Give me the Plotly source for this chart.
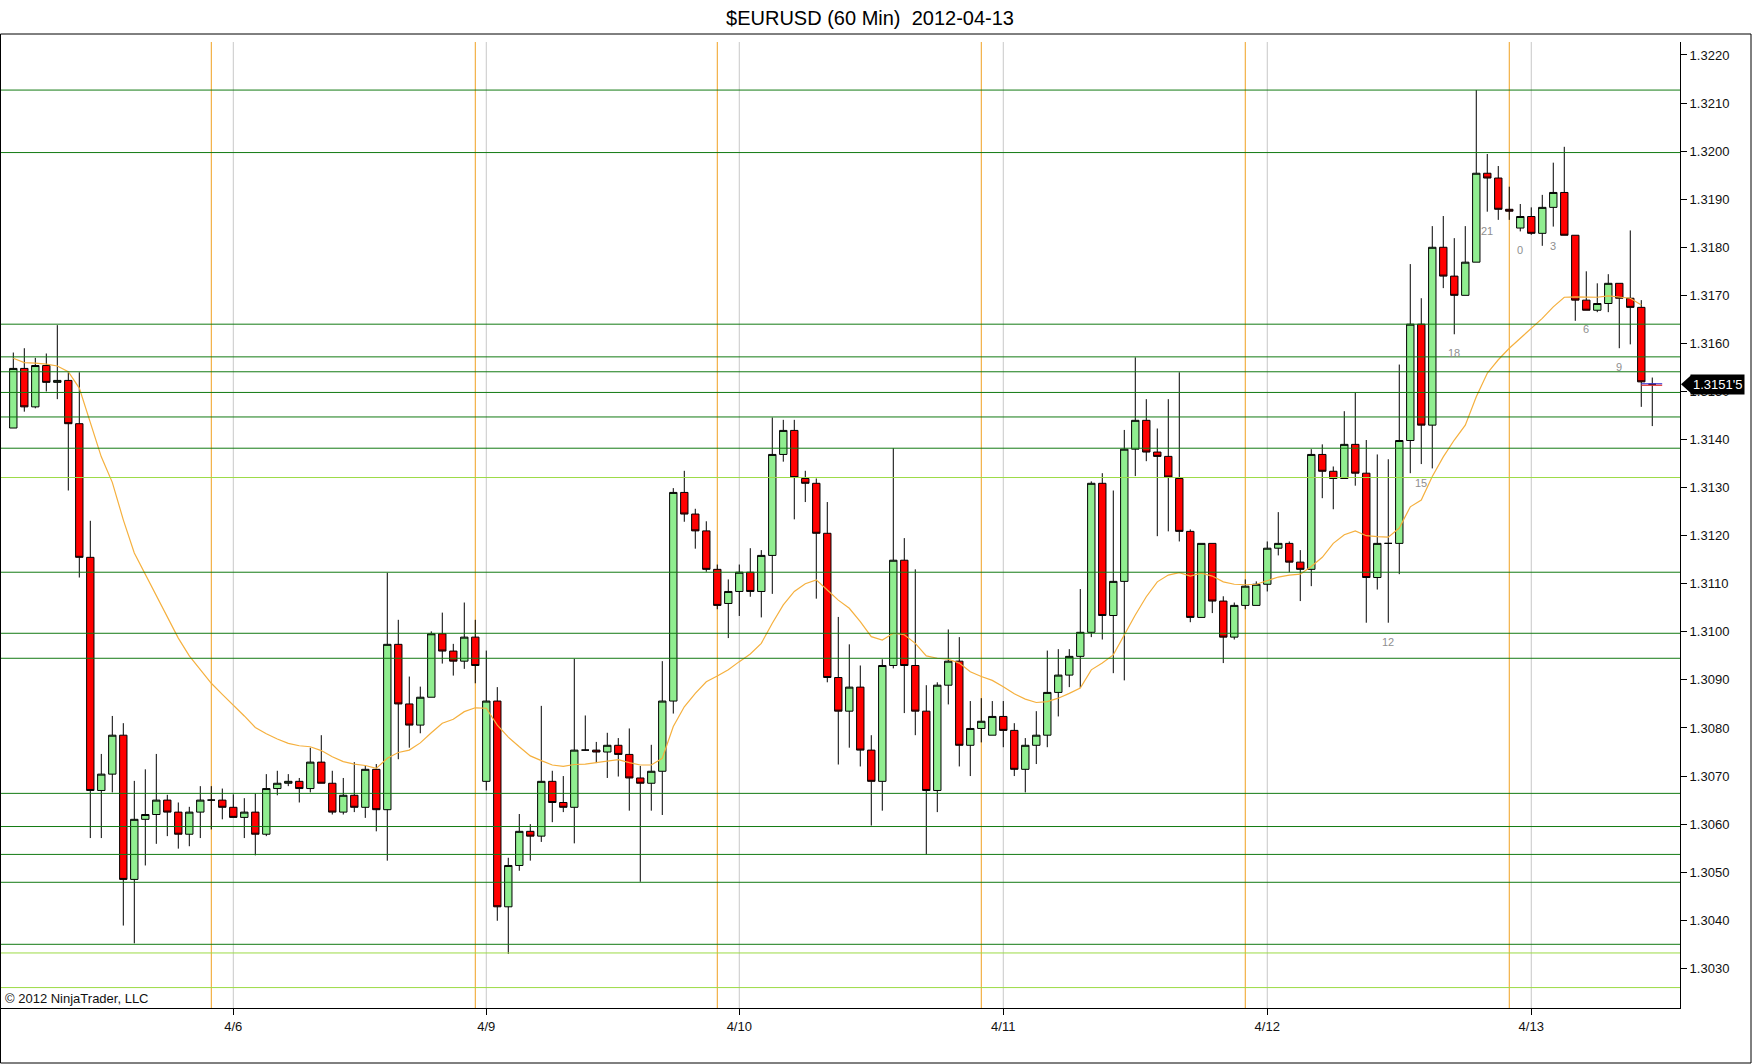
"""
$EURUSD 60 min candles with session breaks, support/resistance levels
and a moving average, in the NinjaTrader look.
"""

import plotly.graph_objects as go

# hourly bars (bar 0 = first visible bar)
opens = [
    1.31424, 1.31548, 1.31468, 1.31554, 1.31519, 1.31523, 1.31433, 1.31155, 1.30670, 1.30704,
    1.30785, 1.30485, 1.30610, 1.30620, 1.30650, 1.30625, 1.30579, 1.30625, 1.30650, 1.30650,
    1.30635, 1.30614, 1.30625, 1.30579, 1.30674, 1.30685, 1.30689, 1.30674, 1.30729, 1.30685,
    1.30625, 1.30660, 1.30635, 1.30714, 1.30630, 1.30974, 1.30850, 1.30806, 1.30864, 1.30996,
    1.30960, 1.30939, 1.30989, 1.30689, 1.30856, 1.30428, 1.30514, 1.30585, 1.30575, 1.30689,
    1.30645, 1.30635, 1.30754, 1.30754, 1.30750, 1.30764, 1.30745, 1.30696, 1.30685, 1.30710,
    1.30856, 1.31290, 1.31245, 1.31210, 1.31130, 1.31059, 1.31084, 1.31124, 1.31084, 1.31159,
    1.31369, 1.31419, 1.31319, 1.31309, 1.31205, 1.30905, 1.30835, 1.30885, 1.30754, 1.30689,
    1.30930, 1.31149, 1.30930, 1.30835, 1.30670, 1.30889, 1.30939, 1.30764, 1.30799, 1.30785,
    1.30824, 1.30795, 1.30714, 1.30764, 1.30785, 1.30874, 1.30910, 1.30949, 1.30999, 1.31309,
    1.31034, 1.31105, 1.31380, 1.31440, 1.31374, 1.31365, 1.31319, 1.31209, 1.31030, 1.31184,
    1.31064, 1.30989, 1.31055, 1.31055, 1.31099, 1.31174, 1.31184, 1.31145, 1.31130, 1.31369,
    1.31334, 1.31319, 1.31390, 1.31330, 1.31113, 1.31184, 1.31184, 1.31398, 1.31640, 1.31430,
    1.31800, 1.31740, 1.31700, 1.31769, 1.31954, 1.31944, 1.31879, 1.31840, 1.31864, 1.31829,
    1.31883, 1.31914, 1.31825, 1.31690, 1.31669, 1.31683, 1.31725, 1.31694, 1.31675, 1.31515,
]
highs = [
    1.31581, 1.31590, 1.31570, 1.31579, 1.31638, 1.31540, 1.31540, 1.31231, 1.30746, 1.30825,
    1.30810, 1.30690, 1.30714, 1.30746, 1.30661, 1.30645, 1.30636, 1.30679, 1.30679, 1.30674,
    1.30662, 1.30654, 1.30664, 1.30704, 1.30711, 1.30704, 1.30696, 1.30759, 1.30785, 1.30711,
    1.30696, 1.30729, 1.30721, 1.30725, 1.31123, 1.31025, 1.30907, 1.30886, 1.31001, 1.31040,
    1.30975, 1.31061, 1.31025, 1.30961, 1.30885, 1.30530, 1.30621, 1.30600, 1.30846, 1.30711,
    1.30700, 1.30944, 1.30826, 1.30771, 1.30790, 1.30779, 1.30799, 1.30721, 1.30765, 1.30939,
    1.31299, 1.31335, 1.31256, 1.31230, 1.31140, 1.31109, 1.31140, 1.31174, 1.31170, 1.31446,
    1.31441, 1.31441, 1.31335, 1.31319, 1.31270, 1.31031, 1.30974, 1.30930, 1.30785, 1.30943,
    1.31382, 1.31195, 1.31130, 1.30889, 1.30895, 1.31005, 1.30989, 1.30856, 1.30862, 1.30856,
    1.30856, 1.30810, 1.30779, 1.30835, 1.30961, 1.30964, 1.30964, 1.31089, 1.31313, 1.31330,
    1.31294, 1.31420, 1.31571, 1.31484, 1.31423, 1.31484, 1.31540, 1.31213, 1.31184, 1.31184,
    1.31074, 1.31061, 1.31109, 1.31105, 1.31188, 1.31249, 1.31188, 1.31170, 1.31380, 1.31390,
    1.31344, 1.31459, 1.31498, 1.31399, 1.31369, 1.31359, 1.31556, 1.31765, 1.31694, 1.31844,
    1.31865, 1.31819, 1.31844, 1.32127, 1.31994, 1.31969, 1.31926, 1.31890, 1.31883, 1.31909,
    1.31976, 1.32009, 1.31825, 1.31750, 1.31725, 1.31744, 1.31725, 1.31835, 1.31690, 1.31529,
]
lows = [
    1.31424, 1.31458, 1.31465, 1.31500, 1.31484, 1.31294, 1.31113, 1.30571, 1.30571, 1.30666,
    1.30389, 1.30352, 1.30514, 1.30559, 1.30575, 1.30549, 1.30554, 1.30571, 1.30589, 1.30610,
    1.30614, 1.30571, 1.30535, 1.30575, 1.30660, 1.30679, 1.30645, 1.30666, 1.30685, 1.30620,
    1.30620, 1.30625, 1.30613, 1.30585, 1.30524, 1.30735, 1.30759, 1.30789, 1.30864, 1.30934,
    1.30909, 1.30923, 1.30893, 1.30670, 1.30399, 1.30330, 1.30503, 1.30524, 1.30563, 1.30604,
    1.30625, 1.30560, 1.30754, 1.30727, 1.30696, 1.30699, 1.30628, 1.30480, 1.30628, 1.30619,
    1.30830, 1.31229, 1.31173, 1.31125, 1.31047, 1.30987, 1.31033, 1.31073, 1.31030, 1.31079,
    1.31354, 1.31234, 1.31270, 1.31069, 1.30895, 1.30724, 1.30759, 1.30720, 1.30597, 1.30628,
    1.30924, 1.30831, 1.30785, 1.30537, 1.30625, 1.30849, 1.30720, 1.30700, 1.30770, 1.30785,
    1.30760, 1.30700, 1.30666, 1.30725, 1.30760, 1.30824, 1.30885, 1.30883, 1.30989, 1.30984,
    1.30914, 1.30899, 1.31324, 1.31355, 1.31199, 1.31209, 1.31188, 1.31020, 1.31030, 1.31039,
    1.30935, 1.30984, 1.31047, 1.31055, 1.31084, 1.31159, 1.31124, 1.31064, 1.31095, 1.31278,
    1.31255, 1.31319, 1.31304, 1.31019, 1.31088, 1.31019, 1.31120, 1.31330, 1.31349, 1.31340,
    1.31715, 1.31619, 1.31700, 1.31769, 1.31874, 1.31857, 1.31857, 1.31833, 1.31826, 1.31803,
    1.31843, 1.31825, 1.31647, 1.31669, 1.31665, 1.31665, 1.31590, 1.31598, 1.31468, 1.31428,
]
closes = [
    1.31548, 1.31468, 1.31554, 1.31519, 1.31523, 1.31433, 1.31155, 1.30670, 1.30704, 1.30785,
    1.30485, 1.30610, 1.30620, 1.30650, 1.30625, 1.30579, 1.30625, 1.30650, 1.30650, 1.30635,
    1.30614, 1.30625, 1.30579, 1.30674, 1.30685, 1.30689, 1.30674, 1.30729, 1.30685, 1.30625,
    1.30660, 1.30635, 1.30714, 1.30630, 1.30974, 1.30850, 1.30806, 1.30864, 1.30996, 1.30960,
    1.30939, 1.30989, 1.30930, 1.30856, 1.30428, 1.30514, 1.30585, 1.30575, 1.30689, 1.30645,
    1.30635, 1.30754, 1.30754, 1.30750, 1.30764, 1.30745, 1.30696, 1.30685, 1.30710, 1.30856,
    1.31290, 1.31245, 1.31210, 1.31130, 1.31055, 1.31084, 1.31124, 1.31084, 1.31159, 1.31369,
    1.31419, 1.31321, 1.31309, 1.31205, 1.30905, 1.30835, 1.30885, 1.30754, 1.30689, 1.30930,
    1.31149, 1.30930, 1.30835, 1.30670, 1.30889, 1.30939, 1.30764, 1.30799, 1.30814, 1.30824,
    1.30795, 1.30714, 1.30764, 1.30785, 1.30874, 1.30910, 1.30949, 1.30999, 1.31309, 1.31034,
    1.31105, 1.31380, 1.31440, 1.31374, 1.31365, 1.31322, 1.31209, 1.31030, 1.31184, 1.31064,
    1.30989, 1.31055, 1.31095, 1.31099, 1.31174, 1.31184, 1.31145, 1.31130, 1.31369, 1.31334,
    1.31319, 1.31390, 1.31330, 1.31113, 1.31184, 1.31184, 1.31398, 1.31640, 1.31430, 1.31800,
    1.31740, 1.31700, 1.31769, 1.31954, 1.31944, 1.31879, 1.31875, 1.31864, 1.31829, 1.31883,
    1.31914, 1.31825, 1.31690, 1.31669, 1.31683, 1.31725, 1.31694, 1.31675, 1.31520, 1.31515,
]

# moving average as drawn (bars 0..148)
sma = [
    1.31569, 1.31560, 1.31559, 1.31557, 1.31553, 1.31541, 1.31507, 1.31435, 1.31364, 1.31311,
    1.31233, 1.31164, 1.31120, 1.31075, 1.31029, 1.30987, 1.30950, 1.30921, 1.30893, 1.30870,
    1.30848, 1.30825, 1.30801, 1.30788, 1.30777, 1.30768, 1.30763, 1.30761, 1.30753, 1.30740,
    1.30730, 1.30725, 1.30722, 1.30716, 1.30737, 1.30749, 1.30754, 1.30769, 1.30790, 1.30810,
    1.30818, 1.30834, 1.30842, 1.30841, 1.30806, 1.30781, 1.30761, 1.30742, 1.30732, 1.30723,
    1.30720, 1.30724, 1.30725, 1.30728, 1.30732, 1.30734, 1.30728, 1.30723, 1.30723, 1.30737,
    1.30803, 1.30844, 1.30872, 1.30896, 1.30908, 1.30921, 1.30938, 1.30954, 1.30976, 1.31018,
    1.31056, 1.31084, 1.31100, 1.31108, 1.31087, 1.31066, 1.31049, 1.31021, 1.30990, 1.30983,
    1.30997, 1.30994, 1.30976, 1.30950, 1.30945, 1.30943, 1.30935, 1.30917, 1.30907, 1.30899,
    1.30886, 1.30871, 1.30860, 1.30853, 1.30855, 1.30862, 1.30872, 1.30883, 1.30921, 1.30935,
    1.30952, 1.30994, 1.31035, 1.31073, 1.31104, 1.31118, 1.31123, 1.31116, 1.31122, 1.31116,
    1.31104, 1.31099, 1.31098, 1.31099, 1.31107, 1.31114, 1.31118, 1.31120, 1.31136, 1.31155,
    1.31184, 1.31202, 1.31210, 1.31200, 1.31198, 1.31197, 1.31216, 1.31260, 1.31274, 1.31323,
    1.31364, 1.31399, 1.31430, 1.31489, 1.31538, 1.31566, 1.31590, 1.31611, 1.31632, 1.31652,
    1.31676, 1.31696, 1.31697, 1.31696, 1.31696, 1.31699, 1.31697, 1.31694, 1.31680,
]

# horizontal levels
levels_dark = [
    1.32127, 1.31997, 1.31640, 1.31572, 1.31541, 1.31498, 1.31447, 1.31382,
    1.31124, 1.30997, 1.30945, 1.30664, 1.30595, 1.30537, 1.30479, 1.30350,
]
levels_light = [1.31321, 1.30332, 1.30260]

# session break bars and day start bars
session_bars = [18, 42, 64, 88, 112, 136]
day_bars = [20, 43, 66, 90, 114, 138]
day_labels = ["4/6", "4/9", "4/10", "4/11", "4/12", "4/13"]

# hour markers on the last day
hour_bars = [125, 128, 131, 134, 137, 140, 143, 146]
hour_labels = ["12", "15", "18", "21", "0", "3", "6", "9"]

last_price_text = "1.3151'5"

FONT = "Liberation Sans, Arial, sans-serif"
W, H = 1752, 1064
M_L, M_R, M_T, M_B = 1, 72, 42, 56
Y_RANGE = [1.302175, 1.32227]
X_RANGE = [-1.118, 151.52]

plot_w = W - M_L - M_R
plot_h = H - M_T - M_B


def px_x(px):
    # figure pixel -> paper x
    return (px - M_L) / plot_w


def px_y(py):
    # figure pixel -> paper y
    return (H - M_B - py) / plot_h


bars = list(range(len(closes)))

fig = go.Figure()

fig.add_trace(
    go.Candlestick(
        x=bars,
        open=opens,
        high=highs,
        low=lows,
        close=closes,
        increasing=dict(fillcolor="#90EE90", line=dict(color="black", width=1)),
        decreasing=dict(fillcolor="#FF0000", line=dict(color="black", width=1)),
        whiskerwidth=0,
        hoverinfo="skip",
        showlegend=False,
    )
)

fig.add_trace(
    go.Scatter(
        x=bars[: len(sma)],
        y=sma,
        mode="lines",
        line=dict(color="#F5B03E", width=1.2),
        hoverinfo="skip",
        showlegend=False,
    )
)

# last price marker on the current bar
last = bars[-1]
step = (Y_RANGE[1] - Y_RANGE[0]) / plot_h
fig.add_trace(
    go.Scatter(
        x=[last - 1.0, last + 0.9],
        y=[closes[-1] + step * 0.5] * 2,
        mode="lines",
        line=dict(color="#3a3ad8", width=1.2),
        hoverinfo="skip",
        showlegend=False,
    )
)
fig.add_trace(
    go.Scatter(
        x=[last - 1.0, last + 0.9],
        y=[closes[-1] - step * 1.0] * 2,
        mode="lines",
        line=dict(color="#e03030", width=1.2),
        hoverinfo="skip",
        showlegend=False,
    )
)

shapes = []
for b in session_bars:
    shapes.append(dict(type="line", xref="x", yref="paper", x0=b, x1=b, y0=0, y1=1,
                       line=dict(color="#F0A020", width=1), layer="below"))
for b in day_bars:
    shapes.append(dict(type="line", xref="x", yref="paper", x0=b, x1=b, y0=0, y1=1,
                       line=dict(color="#C8C8C8", width=1), layer="below"))
for lv in levels_dark:
    shapes.append(dict(type="line", xref="paper", yref="y", x0=0, x1=1, y0=lv, y1=lv,
                       line=dict(color="#137A13", width=1), layer="above"))
for lv in levels_light:
    shapes.append(dict(type="line", xref="paper", yref="y", x0=0, x1=1, y0=lv, y1=lv,
                       line=dict(color="#9CDB46", width=1), layer="above"))

# outer frame of the chart window
shapes.append(dict(type="rect", xref="paper", yref="paper",
                   x0=px_x(0.5), x1=px_x(W - 1), y0=px_y(H - 1), y1=px_y(34),
                   line=dict(color="black", width=1), fillcolor="rgba(0,0,0,0)"))

# arrow of the price tag
tag_y = (closes[-1] - Y_RANGE[0]) / (Y_RANGE[1] - Y_RANGE[0])
half = 9 / plot_h
shapes.append(dict(type="path", xref="paper", yref="paper",
                   path=f"M {px_x(1681)},{tag_y} L {px_x(1691)},{tag_y + half} "
                        f"L {px_x(1691)},{tag_y - half} Z",
                   fillcolor="black", line=dict(color="black", width=0)))

annotations = []
for b, t in zip(hour_bars, hour_labels):
    annotations.append(dict(x=b, y=lows[b], xref="x", yref="y", text=t, showarrow=False,
                            yshift=-19, font=dict(family=FONT, size=11, color="#8f8f8f")))

annotations.append(dict(x=px_x(1690), y=closes[-1], xref="paper", yref="y",
                        xanchor="left", yanchor="middle", text=last_price_text,
                        showarrow=False, bgcolor="black", borderpad=2,
                        font=dict(family=FONT, size=13, color="white")))

annotations.append(dict(x=px_x(2.5), y=0, xref="paper", yref="paper",
                        xanchor="left", yanchor="bottom", text="© 2012 NinjaTrader, LLC",
                        showarrow=False, font=dict(family=FONT, size=13, color="#111111")))

fig.update_layout(
    width=W,
    height=H,
    margin=dict(l=M_L, r=M_R, t=M_T, b=M_B, pad=0),
    paper_bgcolor="white",
    plot_bgcolor="white",
    font=dict(family=FONT, size=13, color="#111111"),
    title=dict(text="$EURUSD (60 Min) \u00a02012-04-13", x=870 / W, xanchor="center",
               y=1 - 17.5 / H, yanchor="middle", font=dict(family=FONT, size=20, color="black")),
    boxgap=0.33,
    boxgroupgap=0,
    showlegend=False,
    shapes=shapes,
    annotations=annotations,
    xaxis=dict(
        range=X_RANGE,
        tickmode="array",
        tickvals=day_bars,
        ticktext=day_labels,
        ticks="outside",
        ticklen=6,
        tickcolor="black",
        showline=True,
        linecolor="black",
        linewidth=1,
        showgrid=False,
        zeroline=False,
        rangeslider=dict(visible=False),
        fixedrange=True,
        tickfont=dict(family=FONT, size=13, color="#111111"),
    ),
    yaxis=dict(
        range=Y_RANGE,
        side="right",
        tick0=1.3,
        dtick=0.001,
        tickformat=".4f",
        ticks="outside",
        ticklen=6,
        tickcolor="black",
        showline=True,
        linecolor="black",
        linewidth=1,
        showgrid=False,
        zeroline=False,
        fixedrange=True,
        tickfont=dict(family=FONT, size=13, color="#111111"),
    ),
)

fig.write_html(
    "out.html",
    config={"displayModeBar": False},
    post_script="document.body.style.margin='0';",
)
